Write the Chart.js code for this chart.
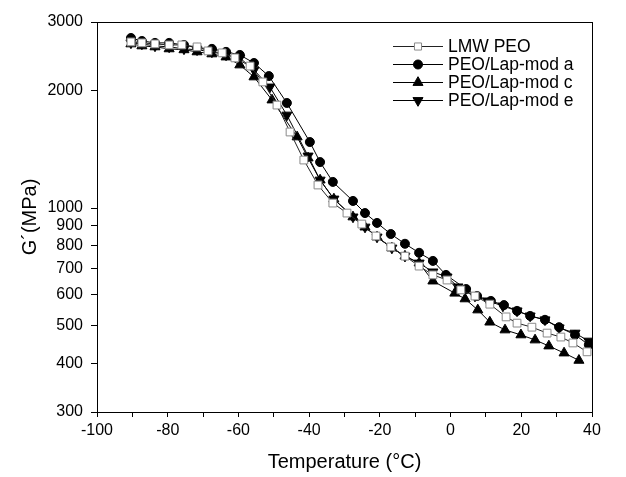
<!DOCTYPE html>
<html>
<head>
<meta charset="utf-8">
<script src="https://cdn.jsdelivr.net/npm/chart.js@4/dist/chart.umd.min.js"></script>
<style>
  html, body { margin: 0; padding: 0; background: #fff; }
  #wrap { width: 626px; height: 477px; }
</style>
</head>
<body>
<div id="wrap"><canvas id="chart" width="626" height="477"></canvas></div>
<script>
// LMW PEO (open squares)
const lmwT = [-90.4, -87.3, -83.6, -79.6, -76.0, -71.7, -68.6, -64.6, -61.0, -56.7, -53.1, -49.1, -45.4, -41.5, -37.5, -33.3, -29.3, -25.1, -21.1, -16.9, -12.9, -8.9, -5.0, -1.0, 2.9, 6.9, 11.1, 15.7, 18.8, 23.0, 27.3, 31.2, 34.6, 38.6];
const lmwG = [2667, 2652, 2636, 2620, 2620, 2590, 2529, 2500, 2427, 2313, 2106, 1837, 1567, 1328, 1146, 1030, 971, 910, 848, 795, 753, 710, 674, 654, 617, 595, 567, 526, 507, 495, 478, 467, 451, 428];

// PEO/Lap-mod a (filled circles)
const modAT = [-90.4, -87.3, -83.6, -79.6, -75.4, -71.7, -67.5, -63.5, -59.6, -55.6, -51.4, -46.3, -39.8, -36.9, -33.3, -27.6, -24.2, -20.8, -16.9, -12.9, -8.9, -5.0, -1.3, 4.4, 7.5, 11.4, 15.1, 18.8, 22.5, 26.7, 30.7, 35.2, 39.1];
const modAG = [2730, 2682, 2652, 2652, 2620, 2575, 2560, 2515, 2470, 2355, 2180, 1860, 1477, 1312, 1167, 1043, 971, 916, 858, 810, 768, 732, 674, 620, 595, 578, 564, 545, 529, 517, 495, 473, 446];

// PEO/Lap-mod c (filled up triangles)
const modCT = [-90.4, -87.3, -83.6, -79.6, -75.4, -71.7, -67.5, -63.5, -59.6, -55.6, -50.5, -43.4, -40.3, -36.9, -33.0, -27.6, -24.2, -20.8, -16.6, -12.9, -8.9, -5.0, 1.2, 4.1, 7.7, 11.1, 15.4, 19.9, 23.9, 27.8, 32.1, 36.3];
const modCG = [2636, 2605, 2590, 2560, 2546, 2515, 2485, 2440, 2328, 2169, 1893, 1522, 1344, 1180, 1055, 949, 894, 843, 790, 753, 723, 650, 605, 585, 548, 510, 487, 473, 459, 443, 425, 407];

// PEO/Lap-mod e (filled down triangles)
const modET = [-90.4, -87.3, -83.6, -79.6, -75.4, -71.7, -67.5, -63.5, -59.6, -55.6, -51.1, -46.3, -40.3, -36.9, -33.0, -27.6, -24.2, -20.8, -16.6, -12.9, -8.9, -5.0, -1.0, 2.1, 6.9, 10.6, 14.8, 18.8, 22.5, 26.7, 30.7, 35.2, 39.1];
const modEG = [2652, 2636, 2605, 2590, 2560, 2546, 2515, 2470, 2427, 2259, 2044, 1732, 1360, 1180, 1055, 949, 894, 843, 790, 753, 723, 686, 666, 628, 595, 578, 561, 545, 529, 517, 493, 478, 456];

const seriesNames = ['LMW PEO', 'PEO/Lap-mod a', 'PEO/Lap-mod c', 'PEO/Lap-mod e'];
const yTicks = [300, 400, 500, 600, 700, 800, 900, 1000, 2000, 3000];

const FONT = '"Liberation Sans", Arial, sans-serif';

const toPoints = (xs, ys) => xs.map((x, i) => ({ x: x, y: ys[i] }));

function series(label, xs, ys, style) {
    return Object.assign({
        label: label,
        data: toPoints(xs, ys),
        borderColor: '#000',
        borderWidth: 1,
        backgroundColor: '#000',
        pointBorderColor: '#000',
        pointBackgroundColor: '#000',
        pointBorderWidth: 1,
        pointHoverRadius: 0,
        tension: 0,
        fill: false
    }, style);
}

const datasets = [
    series(seriesNames[0], lmwT, lmwG, { pointStyle: 'rect', pointRadius: 5.5, pointBackgroundColor: '#fff', pointBorderColor: '#8a8a8a', borderColor: '#222' }),
    series(seriesNames[1], modAT, modAG, { pointStyle: 'circle', pointRadius: 4.5 }),
    series(seriesNames[2], modCT, modCG, { pointStyle: 'triangle', pointRadius: 5.8 }),
    series(seriesNames[3], modET, modEG, { pointStyle: 'triangle', pointRadius: 5.8, pointRotation: 180 })
];

// frame around the plot + legend with line and marker
const framePlugin = {
    id: 'frame',
    afterDraw(chart) {
        const { ctx, chartArea: a } = chart;
        ctx.save();
        ctx.strokeStyle = '#000';
        ctx.lineWidth = 1;
        ctx.strokeRect(Math.round(a.left) + 0.5, Math.round(a.top) + 0.5, Math.round(a.right - a.left), Math.round(a.bottom - a.top));

        const x0 = 393, x1 = 443, mx = 418, tx = 448;
        let y = 46;
        ctx.font = '17.5px ' + FONT;
        ctx.textBaseline = 'middle';
        ctx.textAlign = 'left';
        chart.data.datasets.forEach(ds => {
            ctx.strokeStyle = ds.borderColor;
            ctx.lineWidth = 1;
            ctx.beginPath();
            ctx.moveTo(x0, y + 0.5);
            ctx.lineTo(x1, y + 0.5);
            ctx.stroke();
            ctx.fillStyle = ds.pointBackgroundColor;
            ctx.strokeStyle = ds.pointBorderColor;
            Chart.helpers.drawPoint(ctx, {
                pointStyle: ds.pointStyle,
                radius: ds.pointStyle === 'rect' ? 5 : ds.pointRadius,
                rotation: ds.pointRotation || 0,
                borderWidth: 1
            }, mx, y + 0.5);
            ctx.fillStyle = '#000';
            ctx.fillText(ds.label, tx, y + 1);
            y += 18;
        });
        ctx.restore();
    }
};

new Chart(document.getElementById('chart'), {
    type: 'line',
    data: { datasets: datasets },
    plugins: [framePlugin],
    options: {
        responsive: false,
        animation: false,
        layout: { padding: { left: 0, right: 34, top: 22, bottom: 0 } },
        plugins: {
            legend: { display: false },
            tooltip: { enabled: false }
        },
        scales: {
            x: {
                type: 'linear',
                min: -100,
                max: 40,
                afterFit(scale) { scale.height = 65; },
                border: { display: false },
                grid: { display: true, drawOnChartArea: false, tickLength: 5, color: '#000', tickColor: '#000' },
                ticks: {
                    stepSize: 10,
                    autoSkip: false,
                    maxRotation: 0,
                    padding: 4,
                    color: '#000',
                    font: { family: FONT, size: 16 },
                    callback: v => (v % 20 === 0 ? String(v) : '')
                },
                title: {
                    display: true,
                    text: 'Temperature (°C)',
                    color: '#000',
                    font: { family: FONT, size: 20 },
                    padding: { top: 0, bottom: 3 }
                }
            },
            y: {
                type: 'logarithmic',
                min: 300,
                max: 3000,
                afterFit(scale) { scale.width = 97; },
                afterBuildTicks(scale) { scale.ticks = yTicks.map(v => ({ value: v })); },
                border: { display: false },
                grid: { display: true, drawOnChartArea: false, tickLength: 6, color: '#000', tickColor: '#000' },
                ticks: {
                    autoSkip: false,
                    padding: 8,
                    color: '#000',
                    font: { family: FONT, size: 16 },
                    callback: v => String(v)
                },
                title: {
                    display: true,
                    text: 'G´(MPa)',
                    color: '#000',
                    font: { family: FONT, size: 20 },
                    padding: { top: 18, bottom: 0 }
                }
            }
        }
    }
});
</script>
</body>
</html>
